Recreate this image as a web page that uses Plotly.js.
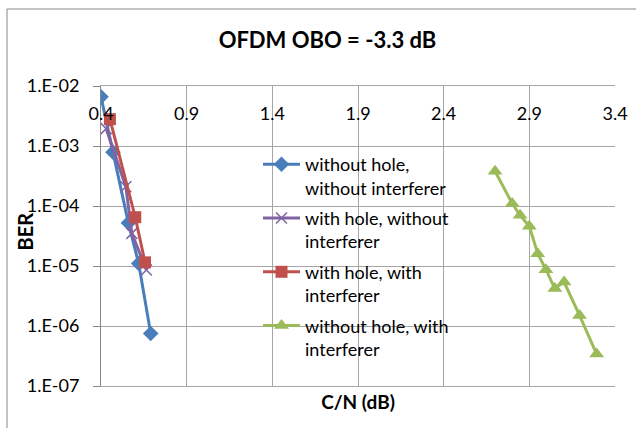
<!DOCTYPE html>
<html>
<head>
<meta charset="utf-8">
<script src="https://cdn.plot.ly/plotly-3.0.1.min.js"></script>
<style>html,body{margin:0;padding:0;background:#fff;}#chart{width:636px;height:428px;}</style>
</head>
<body>
<div id="chart"></div>
<script>
// ---- data ----
const seriesNames = [
  "without hole,<br>without interferer",
  "with hole, without<br>interferer",
  "with hole, with<br>interferer",
  "without hole, with<br>interferer"
];
const blueX = [0.40, 0.47, 0.56, 0.62, 0.69];
const blueY = [6.6e-3, 7.9e-4, 5.2e-5, 1.1e-5, 7.5e-7];
const purpleX = [0.43, 0.545, 0.58, 0.665];
const purpleY = [1.95e-3, 2.1e-4, 3.5e-5, 8.6e-6];
const redX = [0.452, 0.60, 0.657];
const redY = [2.8e-3, 6.5e-5, 1.15e-5];
const greenX = [2.70, 2.80, 2.846, 2.90, 2.949, 2.997, 3.049, 3.103, 3.193, 3.293];
const greenY = [3.8e-4, 1.1e-4, 7.0e-5, 4.6e-5, 1.6e-5, 8.7e-6, 4.2e-6, 5.4e-6, 1.5e-6, 3.4e-7];
const xTickVals = [0.4, 0.9, 1.4, 1.9, 2.4, 2.9, 3.4];
const xTickText = ["0.4", "0.9", "1.4", "1.9", "2.4", "2.9", "3.4"];
const yTickVals = [1e-7, 1e-6, 1e-5, 1e-4, 1e-3, 1e-2];
const yTickText = ["1.E-07", "1.E-06", "1.E-05", "1.E-04", "1.E-03", "1.E-02"];

const FONT = "Lato, 'Noto Sans', sans-serif";
const colors = ["#4A7EBB", "#8064A2", "#C0504D", "#9BBB59"];

const traces = [
  {x: blueX, y: blueY, name: seriesNames[0], legendgroup: "a", mode: "lines+markers",
   line: {color: colors[0], width: 3}, marker: {symbol: "diamond", size: 12, color: colors[0]}},
  {x: purpleX, y: purpleY, name: seriesNames[1], legendgroup: "b", mode: "lines+markers",
   line: {color: colors[1], width: 3}, marker: {symbol: "x-thin-open", size: 11, line: {color: colors[1], width: 1.5}}},
  {x: redX, y: redY, name: seriesNames[2], legendgroup: "c", mode: "lines+markers",
   line: {color: colors[2], width: 3}, marker: {symbol: "square", size: 12, color: colors[2]}},
  {x: greenX, y: greenY, name: seriesNames[3], legendgroup: "d", mode: "lines+markers",
   line: {color: colors[3], width: 3}, marker: {symbol: "triangle-up", size: 13, color: colors[3]}},
  // invisible helper so the tick-label axis is drawn
  {x: xTickVals, y: xTickVals.map(() => 1e-2), xaxis: "x2", yaxis: "y", mode: "markers",
   marker: {opacity: 0}, showlegend: false, hoverinfo: "skip"}
];

const layout = {
  width: 636, height: 428,
  margin: {l: 101, r: 21, t: 86, b: 42},
  paper_bgcolor: "#fff", plot_bgcolor: "#fff",
  font: {family: FONT, size: 18, color: "#000"},
  title: {text: "<b>OFDM OBO = -3.3 dB</b>", font: {family: FONT, size: 22, color: "#000"},
          x: 327.5/636, xanchor: "center", y: 1 - 40/428, yanchor: "middle", yref: "container"},
  xaxis: {range: [0.4, 3.4], tickvals: xTickVals, showticklabels: false, ticks: "",
          showgrid: true, gridcolor: "#A6A6A6", gridwidth: 1, zeroline: false,
          showline: true, linecolor: "#A6A6A6", mirror: true,
          title: {text: "<b>C/N (dB)</b>", font: {family: FONT, size: 19}, standoff: 9}},
  xaxis2: {overlaying: "x", matches: "x", anchor: "free", position: 1 - 15/300, side: "bottom",
           tickvals: xTickVals, ticktext: xTickText, ticks: "", showgrid: false,
           showline: false, zeroline: false, tickfont: {family: FONT, size: 18}},
  yaxis: {type: "log", range: [-7, -2], tickvals: yTickVals, ticktext: yTickText,
          showgrid: true, gridcolor: "#A6A6A6", gridwidth: 1, zeroline: false,
          showline: true, linecolor: "#868686", ticks: "outside", ticklen: 7, tickcolor: "#868686",
          tickfont: {family: FONT, size: 18}, ticklabelstandoff: 10},
  annotations: [{text: "<b>BER</b>", xref: "paper", yref: "paper", x: (24.5-101)/514, y: (386-232)/300,
                 xanchor: "center", yanchor: "middle", textangle: -90, showarrow: false,
                 font: {family: FONT, size: 20, color: "#000"}}],
  legend: {x: (258-101)/514, y: (386-146)/300, xanchor: "left", yanchor: "top",
           bgcolor: "rgba(0,0,0,0)", borderwidth: 0, valign: "top",
           font: {family: FONT, size: 18, color: "#000"},
           traceorder: "grouped", tracegroupgap: 4, itemwidth: 37},
  shapes: [{type: "rect", xref: "paper", yref: "paper",
            x0: (7-101)/514, x1: (645-101)/514, y0: (386-440)/300, y1: (386-9)/300,
            line: {color: "#868686", width: 1}, fillcolor: "rgba(0,0,0,0)", layer: "below"}],
  showlegend: true
};

Plotly.newPlot("chart", traces, layout, {staticPlot: true, displayModeBar: false});
</script>
</body>
</html>
